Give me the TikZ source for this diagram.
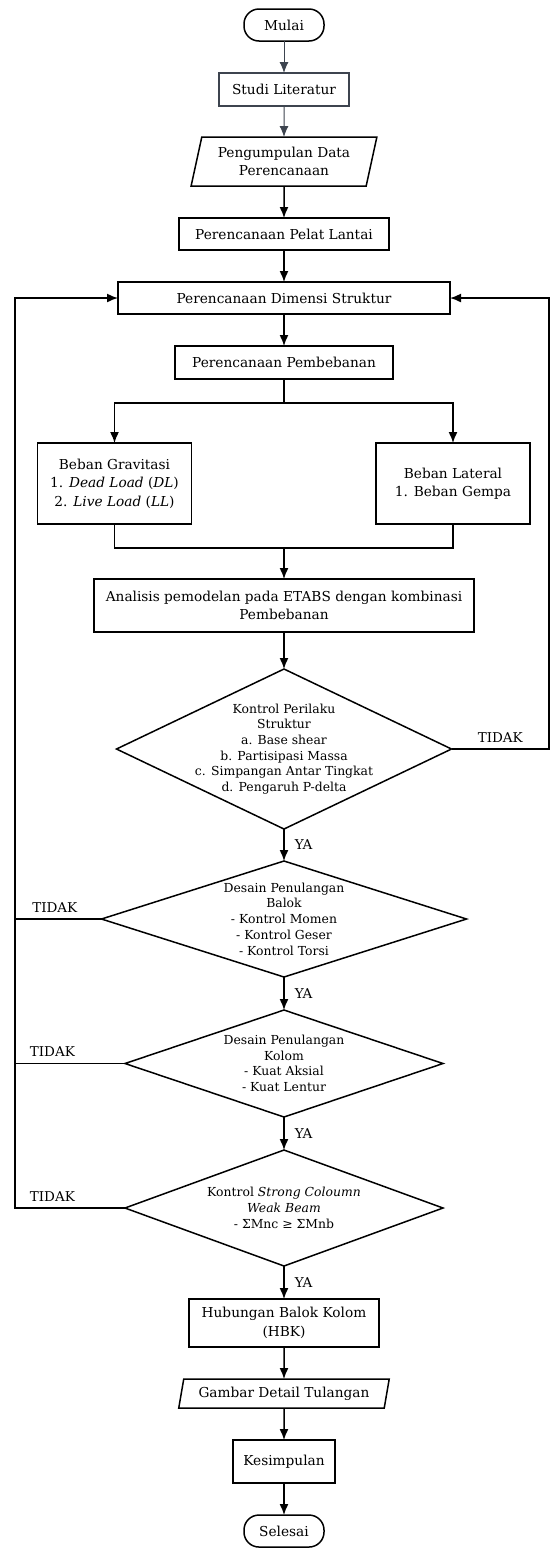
\documentclass[tikz,border=0pt]{standalone}
\usepackage{fontspec}
\setmainfont{DejaVu Serif}
\usetikzlibrary{arrows.meta,positioning,shapes.geometric}
\definecolor{alurabu}{HTML}{3D444F}

\begin{document}
\begin{tikzpicture}[x=1pt, y=1pt,
  proses/.style={draw, line width=1.5pt, fill=white, inner sep=2pt, outer sep=0pt, align=center, font=\fontsize{13.7}{18.5}\selectfont},
  terminal/.style={proses, rounded corners=15pt, minimum width=80pt, minimum height=32pt},
  masukan/.style={proses, trapezium, trapezium stretches=true},
  cek/.style={diamond, draw, line width=1.5pt, fill=white, inner sep=0pt, outer sep=0pt},
  cektext/.style={align=center, inner sep=0pt, font=\fontsize{12.4}{15.7}\selectfont},
  jawab/.style={inner sep=1pt, font=\fontsize{13.5}{15}\selectfont},
  arrow/.style={-{Latex[length=11pt, width=9pt]}, line width=1.5pt}
]
\useasboundingbox (0,0) rectangle (551,-1548);
\node[terminal] (mulai) at (284,-25) {Mulai};
\node[proses, draw=alurabu, line width=1.1pt, minimum width=130pt, minimum height=33pt, below=32pt of mulai] (studi) {Studi Literatur};
\node[masukan, trapezium left angle=75, trapezium right angle=105, minimum width=186pt, minimum height=49pt, below=31pt of studi] (data) {Pengumpulan Data\\Perencanaan};
\node[proses, minimum width=210pt, minimum height=32pt, below=32pt of data] (pelat) {Perencanaan Pelat Lantai};
\node[proses, minimum width=332pt, minimum height=32pt, below=32pt of pelat] (dimensi) {Perencanaan Dimensi Struktur};
\node[proses, minimum width=218pt, minimum height=33pt, below=32pt of dimensi] (beban) {Perencanaan Pembebanan};
\node[proses, minimum width=154pt, minimum height=81pt, below=64pt of beban, xshift=-169.5pt] (grav) {Beban Gravitasi\\1. \textit{Dead Load} (\textit{DL})\\2. \textit{Live Load} (\textit{LL})};
\node[proses, minimum width=154pt, minimum height=81pt, below=64pt of beban, xshift=169pt] (lat) {Beban Lateral\\1. Beban Gempa};
\node[proses, minimum width=380pt, minimum height=53pt, below=200pt of beban] (etabs) {Analisis pemodelan pada ETABS dengan kombinasi\\Pembebanan};
\node[cek, minimum width=335pt, minimum height=160pt, below=37pt of etabs,
  label={[cektext]center:Kontrol Perilaku\\Struktur\\a. Base shear\\b. Partisipasi Massa\\c. Simpangan Antar Tingkat\\d. Pengaruh P-delta}] (k1) {};
\node[cek, minimum width=365pt, minimum height=116pt, below=32pt of k1,
  label={[cektext]center:Desain Penulangan\\Balok\\- Kontrol Momen\\- Kontrol Geser\\- Kontrol Torsi}] (k2) {};
\node[cek, minimum width=318pt, minimum height=107pt, below=33pt of k2,
  label={[cektext]center:Desain Penulangan\\Kolom\\- Kuat Aksial\\- Kuat Lentur}] (k3) {};
\node[cek, minimum width=318pt, minimum height=116pt, below=33pt of k3,
  label={[cektext]center:Kontrol \textit{Strong Coloumn}\\\textit{Weak Beam}\\- ΣMnc ≥ ΣMnb}] (k4) {};
\node[proses, minimum width=190pt, minimum height=48pt, below=33pt of k4] (hbk) {Hubungan Balok Kolom\\(HBK)};
\node[masukan, trapezium left angle=76, trapezium right angle=104, minimum width=211pt, minimum height=29pt, below=32pt of hbk] (gambar) {Gambar Detail Tulangan};
\node[proses, minimum width=102pt, minimum height=43pt, below=32pt of gambar] (simpul) {Kesimpulan};
\node[terminal, below=32pt of simpul] (selesai) {Selesai};

\coordinate[below=24pt of beban] (pisah);
\coordinate[above=31pt of etabs] (gabung);
\coordinate (tepikiri) at (15,0);
\coordinate (tepikanan) at (549,0);

\foreach \a/\b in {mulai/studi,studi/data}
  \draw[arrow, draw=alurabu, line width=1pt] (\a) -- (\b);
\foreach \a/\b in {data/pelat,pelat/dimensi,dimensi/beban,gabung/etabs,etabs/k1,hbk/gambar,gambar/simpul,simpul/selesai}
  \draw[arrow] (\a) -- (\b);
\foreach \a/\b in {k1/k2,k2/k3,k3/k4,k4/hbk}
  \draw[arrow] (\a) -- node[jawab, right=9pt] {YA} (\b);
\draw[line width=1.5pt] (beban) -- (pisah);
\draw[arrow] (pisah) -| (grav);
\draw[arrow] (pisah) -| (lat);
\draw[line width=1.5pt] (grav) |- (gabung) -| (lat);
% TIDAK loops
\draw[arrow] (k1.east) -- node[jawab, above=5pt] {TIDAK} (k1.east -| tepikanan) |- (dimensi.east);
\draw[line width=1.5pt] (k2.west) -- node[jawab, above=5pt, pos=.54] {TIDAK} (k2.west -| tepikiri);
\draw[line width=1.5pt] (k3.west) -- node[jawab, above=5pt, pos=.66] {TIDAK} (k3.west -| tepikiri);
\draw[arrow] (k4.west) -- node[jawab, above=5pt, pos=.66] {TIDAK} (k4.west -| tepikiri) |- (dimensi.west);
\end{tikzpicture}
\end{document}
